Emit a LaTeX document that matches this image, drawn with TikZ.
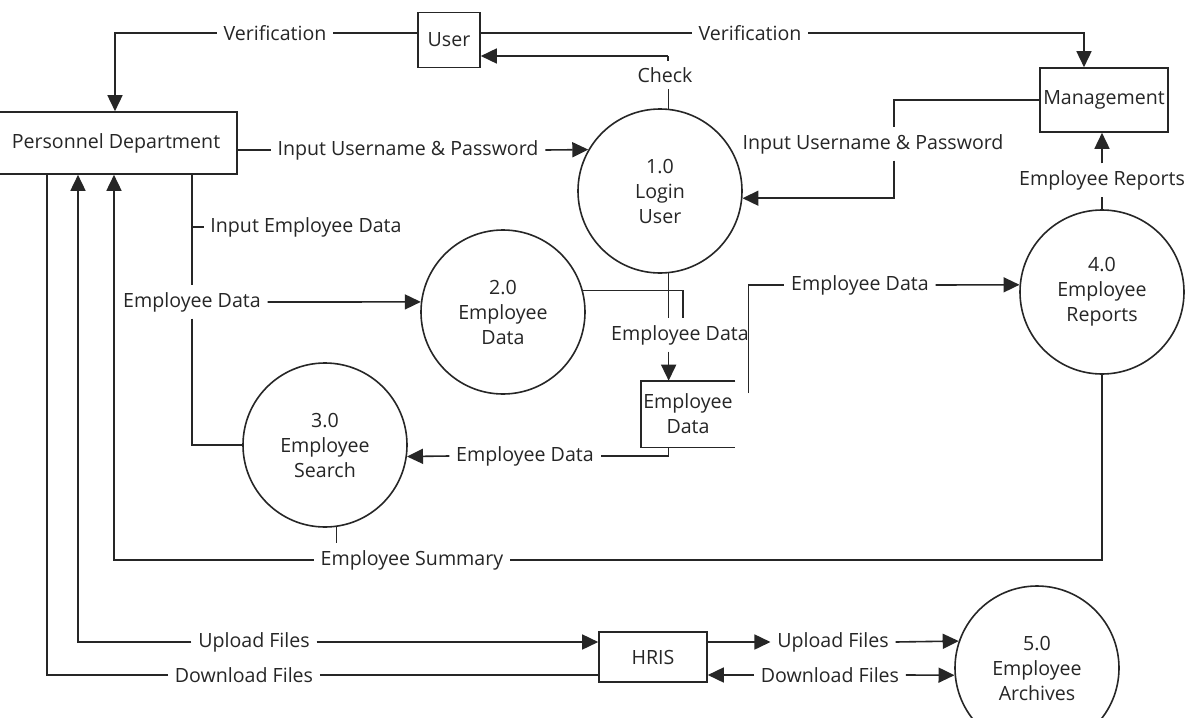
\documentclass[tikz,border=0pt]{standalone}
\usepackage{fontspec}
\setmainfont{Open Sans}
\usepackage{tikz}
\usetikzlibrary{
  arrows.meta,
  calc,
  shapes,
}
\tikzstyle{process} = [draw, circle, minimum size=82pt, inner sep=0pt, align=center]
\tikzstyle{entity} = [draw, rectangle, inner sep=0pt]
\tikzstyle{flowlabel} = [inner sep=3pt]
\tikzstyle{arrow} = [-{Triangle[length=8pt,width=7.5pt]}]

\begin{document}
\begin{tikzpicture}[x=0.5pt, y=-0.5pt, line width=0.8pt, color=black!85,
    font=\fontsize{9.8}{12.5}\selectfont]

    \fill[white] (0,0) rectangle (1190,718);
    \useasboundingbox (0,0) rectangle (1190,718);

    % external entities
    \node[entity,minimum width=121pt,minimum height=31pt] (pd) at (116,143) {Personnel Department};
    \node[entity,minimum width=31pt,minimum height=27.5pt] (user) at (449,40) {User};
    \node[entity,minimum width=64pt,minimum height=32pt] (mgmt) at (1104,100) {Management};
    \node[entity,minimum width=54pt,minimum height=25pt] (hris) at (653,657) {HRIS};

    % processes
    \node[process] (p1) at (660,191) {1.0\\Login\\User};
    \node[process] (p2) at (503,312) {2.0\\Employee\\Data};
    \node[process] (p3) at (325,445) {3.0\\Employee\\Search};
    \node[process] (p4) at (1102,292) {4.0\\Employee\\Reports};
    \node[process] (p5) at (1037,668) {5.0\\Employee\\Archives};

    % data store
    \node[minimum width=46.5pt,minimum height=32.5pt,inner sep=0pt,align=center] (store) at (688,414) {Employee\\Data};
    \draw (store.north east) -- (store.north west) -- (store.south west) -- (store.south east);

    % flow labels
    \node[flowlabel] (lv1) at (275,33) {Verification};
    \node[flowlabel] (lv2) at (750,33) {Verification};
    \node[flowlabel] (lchk) at (665,75) {Check};
    \node[flowlabel] (lin1) at (408,150) {Input Username \& Password};
    \node[flowlabel] (lin2) at (873,144) {Input Username \& Password};
    \node[flowlabel] (lrep) at (1102,180) {Employee Reports};
    \node[flowlabel] (lied) at (306,227) {Input Employee Data};
    \node[flowlabel] (led1) at (192,302) {Employee Data};
    \node[flowlabel] (led2) at (680,335) {Employee Data};
    \node[flowlabel] (led3) at (860,285) {Employee Data};
    \node[flowlabel] (led4) at (525,456) {Employee Data};
    \node[flowlabel] (lsum) at (412,560) {Employee Summary};
    \node[flowlabel] (lup1) at (254,642) {Upload Files};
    \node[flowlabel] (ldn1) at (244,675) {Download Files};
    \node[flowlabel] (lup2) at (833,642) {Upload Files};
    \node[flowlabel] (ldn2) at (830,675) {Download Files};
    \coordinate (chk) at (668,56);

    % verification
    \draw (user.west |- lv1) -- (lv1.east);
    \draw[arrow] (lv1.west) -| ($(pd.north)+(-1,0)$);
    \draw (user.east |- lv2) -- (lv2.west);
    \draw[arrow] (lv2.east) -| ($(mgmt.north)+(-20,0)$);

    % login
    \draw (p1.84) -- (p1.84 |- lchk.south);
    \draw (lchk.north -| chk) -- (chk);
    \draw[arrow] (chk) -- (user.east |- chk);
    \draw (pd.east |- lin1) -- (lin1.west);
    \draw[arrow] (lin1.east) -- (p1.150);
    \draw (mgmt.west) -| ($(lin2.north)+(21,0)$);
    \draw[arrow] ($(lin2.south)+(21,0)$) |- (p1.-5);

    % reports
    \draw (p4.north) -- (lrep.south);
    \draw[arrow] (lrep.north) -- (lrep.north |- mgmt.south);

    % employee data
    \draw (pd.south -| led1) -- (led1.north);
    \draw (lied.west) -- (lied.west -| led1);
    \draw (led1.south) |- (p3.west);
    \draw[arrow] (led1.east) -- (p2.173);
    \draw (p2.15) -| ($(led2.north)+(3,0)$);
    \draw (p1.-84) -- (p1.-84 |- led2.north);
    \draw[arrow] (p1.-84 |- led2.south) -- (p1.-84 |- store.north);
    \draw (p1.-84 |- store.south) |- (led4.east);
    \draw[arrow] (led4.west) -- (p3.-8);
    \draw ($(store.east)+(13,-21)$) |- (led3.west);
    \draw[arrow] (led3.east) -- (p4.175);

    % summary
    \draw (p3.-82) -- (p3.-82 |- lsum.north);
    \draw (lsum.east) -| (p4.south);
    \draw[arrow] (lsum.west) -| ($(pd.south)+(-2,0)$);

    % files
    \draw[arrow] (lup1.west) -| ($(pd.south)+(-38,0)$);
    \draw[arrow] (lup1.east) -- (hris.west |- lup1);
    \draw (ldn1.west) -| ($(pd.south)+(-69,0)$);
    \draw (ldn1.east) -- (hris.west |- ldn1);
    \draw[arrow] (hris.east |- lup2) -- (lup2.west);
    \draw[arrow] (lup2.east) -- (p5.161.5);
    \draw[arrow] (ldn2.west) -- (hris.east |- ldn2);
    \draw[arrow] (ldn2.east) -- (p5.185);

\end{tikzpicture}
\end{document}
